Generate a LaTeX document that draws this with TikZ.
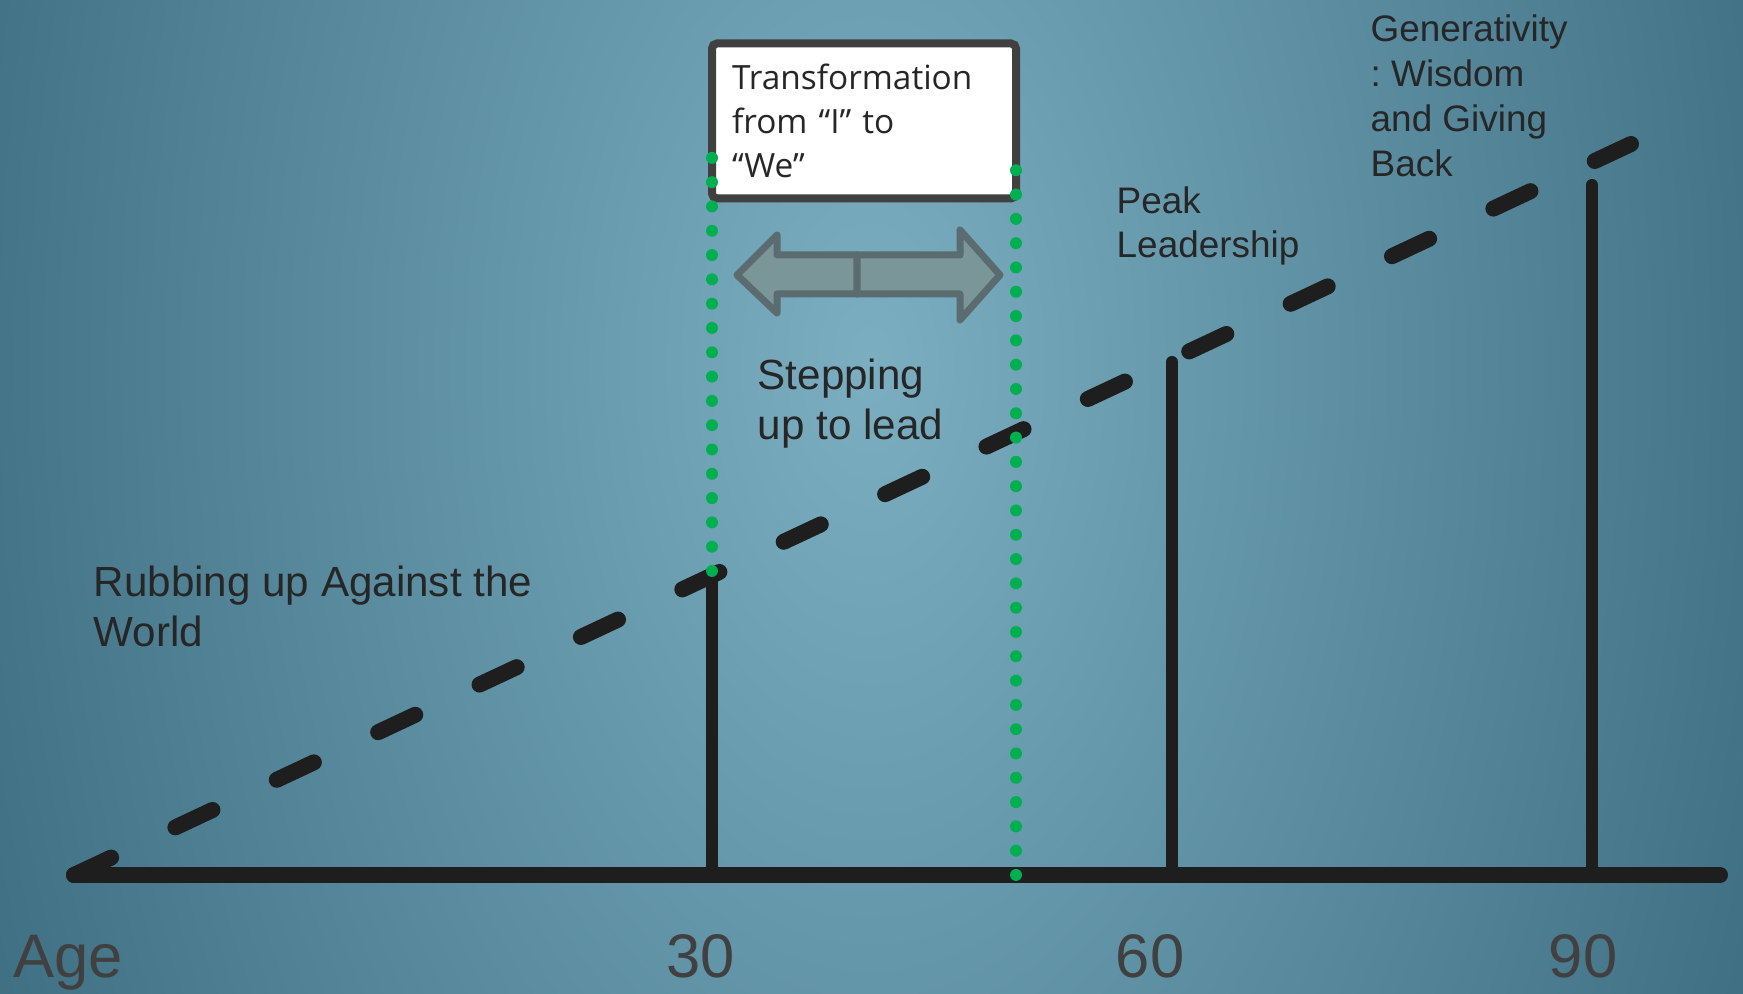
\documentclass[tikz,border=0pt]{standalone}
\usepackage{fontspec}
\setmainfont{Liberation Sans}
\newfontfamily\boxfont{Open Sans}
\frenchspacing
\definecolor{bglight}{RGB}{123,174,193}
\definecolor{bgdark}{RGB}{60,108,127}
\definecolor{inkdark}{RGB}{30,30,30}
\definecolor{txtdark}{RGB}{38,38,38}
\definecolor{axisgray}{RGB}{64,64,64}
\definecolor{dotgreen}{RGB}{0,176,80}
\definecolor{arrowfill}{RGB}{122,150,153}
\definecolor{arrowedge}{RGB}{90,108,112}
\pgfdeclareradialshading{bgglow}{\pgfpoint{0bp}{0bp}}{color(0bp)=(bglight); color(25bp)=(bgdark); color(50bp)=(bgdark)}
\begin{document}
\begin{tikzpicture}[
		axisline/.style={line width=0.16cm, line cap=round, inkdark},
		bar/.style={line width=0.12cm, line cap=round, inkdark},
		greendots/.style={line width=0.12cm, line cap=round, dotgreen, dash pattern=on 0pt off 0.243cm},
		halfarrow/.style={fill=arrowfill, draw=arrowedge, line width=0.07cm, line join=round},
		lbl/.style={inner sep=0pt, anchor=north west, align=left, text=txtdark},
		agelbl/.style={inner sep=0pt, anchor=base, text=axisgray, font=\fontsize{17.5}{21}\selectfont}]
		\useasboundingbox (0,0) rectangle (17.43,9.94);
		\begin{scope}
			\clip (0,0) rectangle (17.43,9.94);
			\fill[bgdark] (0,0) rectangle (17.43,9.94);
			\shade[shading=bgglow] (8.70,6.30) ellipse (10 and 17);
		\end{scope}
		% axis and the rising line
		\coordinate (O) at (0.74,1.19);
		\coordinate (E) at (17.20,1.19);
		\coordinate (crest) at (16.31,8.50);
		\draw[axisline, dash pattern=on 0.41cm off 0.71cm] (O) -- (crest);
		\coordinate (a30) at (7.12,1.19);
		\coordinate (b30) at (7.12,4.22);
		\coordinate (a60) at (11.72,1.19);
		\coordinate (b60) at (11.72,6.32);
		\coordinate (a90) at (15.92,1.19);
		\coordinate (b90) at (15.92,8.09);
		\draw[bar] (a30) -- (b30);
		\draw[bar] (a60) -- (b60);
		\draw[bar] (a90) -- (b90);
		\draw[axisline] (O) -- (E);
		% box and the window
		\node[draw=axisgray, line width=0.08cm, fill=white, rounded corners=0.05cm, minimum width=3.04cm, minimum height=1.55cm, text width=2.64cm, inner xsep=0.2cm, inner ysep=0pt, align=left, text=txtdark, font=\boxfont\fontsize{9.5}{12.5}\selectfont] (shift) at (8.64,8.73) {Transformation\\from “I” to\\“We”};
		\coordinate (gl) at (7.12,8.42);
		\coordinate (gr) at (10.16,8.47);
		\coordinate (gb) at (10.16,1.19);
		\draw[greendots] (7.12,4.23) -- (gl);
		\draw[greendots] (gb) -- (gr);
		\draw[halfarrow] (7.37,7.19) -- (7.77,7.59) -- (7.77,7.39) -- (8.57,7.39) -- (8.57,7.00) -- (7.77,7.00) -- (7.77,6.81) -- cycle;
		\draw[halfarrow] (10.00,7.19) -- (9.60,7.64) -- (9.60,7.39) -- (8.57,7.39) -- (8.57,7.00) -- (9.60,7.00) -- (9.60,6.74) -- cycle;
		% labels
		\node[lbl, font=\fontsize{12}{14.2}\selectfont] (rub) at (0.93,4.29) {Rubbing up Against the\\World};
		\node[lbl, font=\fontsize{12}{14.4}\selectfont] (step) at (7.57,6.36) {Stepping\\up to lead};
		\node[lbl, font=\fontsize{10.5}{12.6}\selectfont] (peak) at (11.16,8.08) {Peak\\Leadership};
		\node[lbl, font=\fontsize{10.5}{12.8}\selectfont] (gen) at (13.70,9.80) {Generativity\\: Wisdom\\and Giving\\Back};
		\node[agelbl, anchor=base west] (age) at (0.13,0.16) {Age};
		\node[agelbl] (n30) at (7.01,0.16) {30};
		\node[agelbl] (n60) at (11.50,0.16) {60};
		\node[agelbl] (n90) at (15.83,0.16) {90};
	\end{tikzpicture}
\end{document}
